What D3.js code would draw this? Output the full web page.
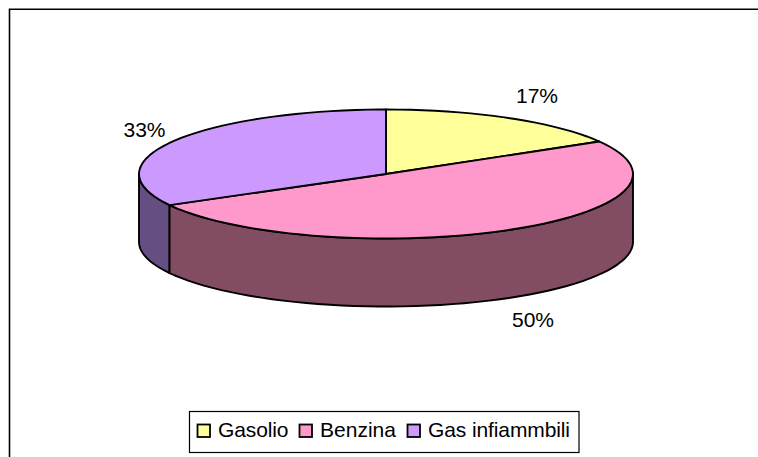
<!DOCTYPE html>
<html>
<head>
<meta charset="utf-8">
<script src="https://cdn.jsdelivr.net/npm/d3@7"></script>
<style>
  body { margin: 0; background: #fff; }
  svg { display: block; }
  text { font-family: "Liberation Sans", Arial, sans-serif; font-size: 21px; fill: #000; }
</style>
</head>
<body>
<div id="chart"></div>
<script>
  const categories = ["Gasolio", "Benzina", "Gas infiammbili"];
  const values = [16.6, 50.4, 33];
  const percentLabels = ["17%", "50%", "33%"];

  const topColors = ["#ffff99", "#ff99cc", "#cc99ff"];
  const sideColors = ["#80804c", "#824d63", "#654f82"];

  const width = 758;
  const height = 457;
  const cx = 386;
  const cy = 174;
  const rx = 247;
  const ry = 64.5;
  const depth = 68;
  const arcStep = 0.05; // coarse on purpose, the original outline is jagged
  const lineWidth = 1.9;

  const svg = d3.select("#chart")
    .append("svg")
    .attr("width", width)
    .attr("height", height);

  // frame runs off the right and bottom of the picture
  svg.append("path")
    .attr("d", `M9.5,${height + 5}V9.2H${width + 5}`)
    .attr("fill", "none")
    .attr("stroke", "#000")
    .attr("stroke-width", 1.6);

  const slices = d3.pie().sort(null).value(d => d)(values);

  // angle is clockwise from 12 o'clock, like d3.pie
  const ellipsePoint = (a, dy = 0) => [cx + rx * Math.sin(a), cy - ry * Math.cos(a) + dy];

  function arcPoints(a0, a1, dy = 0) {
    const angles = d3.range(a0, a1, arcStep);
    angles.push(a1);
    return angles.map(a => ellipsePoint(a, dy));
  }

  const line = d3.line();

  // side walls, only the part facing the viewer
  const frontStart = Math.PI / 2;
  const frontEnd = Math.PI * 1.5;
  slices.slice().reverse().forEach(s => {
    const a0 = Math.max(s.startAngle, frontStart);
    const a1 = Math.min(s.endAngle, frontEnd);
    if (a1 <= a0) return;
    const pts = arcPoints(a0, a1).concat(arcPoints(a0, a1, depth).reverse());
    svg.append("path")
      .attr("d", line(pts) + "Z")
      .attr("fill", sideColors[s.index])
      .attr("stroke", "#000")
      .attr("stroke-width", lineWidth)
      .attr("stroke-linejoin", "round");
  });

  // top face
  slices.forEach(s => {
    const pts = [[cx, cy]].concat(arcPoints(s.startAngle, s.endAngle));
    svg.append("path")
      .attr("d", line(pts) + "Z")
      .attr("fill", topColors[s.index])
      .attr("stroke", "#000")
      .attr("stroke-width", lineWidth)
      .attr("stroke-linejoin", "round");
  });

  // percent labels
  const labelPos = [[537, 103], [533, 327], [144.5, 137]];
  percentLabels.forEach((t, i) => {
    svg.append("text")
      .attr("x", labelPos[i][0])
      .attr("y", labelPos[i][1])
      .attr("text-anchor", "middle")
      .text(t);
  });

  // legend
  const legend = svg.append("g");
  legend.append("rect")
    .attr("x", 189.5)
    .attr("y", 411.5)
    .attr("width", 389.5)
    .attr("height", 41)
    .attr("fill", "#fff")
    .attr("stroke", "#000")
    .attr("stroke-width", 1.2);

  const swatchX = [197.5, 299.5, 407.5];
  const textX = [218, 320, 428];
  const textLen = [70.5, 76, 142];
  categories.forEach((c, i) => {
    legend.append("rect")
      .attr("x", swatchX[i])
      .attr("y", 424.5)
      .attr("width", 12.5)
      .attr("height", 12.5)
      .attr("fill", topColors[i])
      .attr("stroke", "#000")
      .attr("stroke-width", 1.8);
    legend.append("text")
      .attr("x", textX[i])
      .attr("y", 437)
      .attr("textLength", textLen[i])
      .attr("lengthAdjust", "spacing")
      .text(c);
  });
</script>
</body>
</html>
